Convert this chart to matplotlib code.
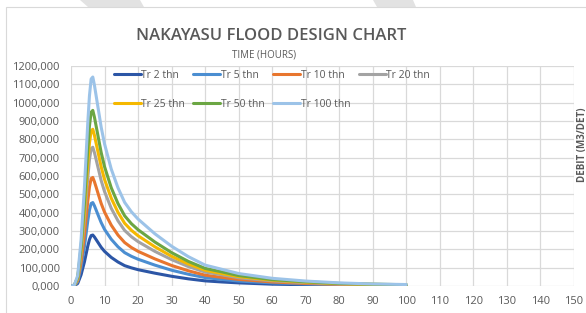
import numpy as np
import matplotlib
matplotlib.use("Agg")
import matplotlib.pyplot as plt
from matplotlib.patches import Polygon, Rectangle

# Hydrograph values (m3/det), time in hours.
hours = [0, 1, 2, 3, 4, 5, 5.5, 6, 6.5, 7, 7.5, 8, 9, 10, 12, 14, 16, 18, 20,
         25, 30, 35, 40, 45, 50, 60, 70, 80, 90, 100]
tr2 = [0, 1.4, 14, 61, 131, 217, 253, 275, 278, 267, 253, 239, 211, 189, 156, 131, 111, 99, 89,
       70, 53, 39, 28, 22, 17, 10, 7, 4, 3, 2]
tr5 = [0, 2.3, 23, 100, 214, 355, 414, 450, 455, 437, 414, 391, 346, 309, 255, 214, 182, 162, 146,
       114, 86, 64, 46, 36, 27, 17, 11, 7, 5, 3]
tr10 = [0, 3, 30, 130, 278, 462, 539, 586, 592, 568, 539, 509, 450, 403, 332, 278, 237, 210, 189,
        148, 112, 83, 59, 47, 36, 22, 14, 9, 6, 4]
tr20 = [0, 3.8, 38, 167, 356, 590, 689, 749, 757, 727, 689, 651, 575, 515, 424, 356, 303, 269, 242,
        189, 144, 106, 76, 61, 45, 28, 18, 11, 8, 5]
tr25 = [0, 4.3, 43, 188, 402, 667, 778, 846, 855, 821, 778, 735, 650, 581, 479, 402, 342, 304, 274,
        214, 162, 120, 86, 68, 51, 32, 21, 13, 9, 6]
tr50 = [0, 4.8, 48, 211, 450, 747, 872, 948, 958, 920, 872, 824, 728, 651, 536, 450, 383, 340, 307,
        240, 182, 134, 96, 77, 57, 35, 23, 14, 10, 7]
tr100 = [0, 5.7, 57, 251, 536, 889, 1037, 1129, 1140, 1094, 1037, 980, 866, 775, 638, 536, 456, 405, 365,
         285, 217, 160, 114, 91, 68, 42, 27, 17, 11, 8]

series = [tr2, tr5, tr10, tr20, tr25, tr50, tr100]
labels = ["Tr 2 thn", "Tr 5 thn", "Tr 10 thn", "Tr 20 thn",
          "Tr 25 thn", "Tr 50 thn", "Tr 100 thn"]
colors = ["#2C56A6", "#4B8ED1", "#E8762E", "#A3A3A3", "#F5B800", "#6BA643", "#9CC3E8"]

xticks = list(range(0, 151, 10))
yticks = list(range(0, 1201, 100))

txt = "#595959"
plt.rcParams["font.family"] = ["Open Sans", "DejaVu Sans"]

fig = plt.figure(figsize=(5.86, 3.13), dpi=100)
W, H = 586, 313

# faint page decorations: grey stripes at the top and the chart border
for pts in ([(80, 0), (140, 0), (144, 7), (88, 7)],
            [(373, 0), (413, 0), (416, 7), (377, 7)]):
    fig.patches.append(Polygon([(x / W, 1 - y / H) for x, y in pts], closed=True,
                               transform=fig.transFigure, color="#e2e2e2", lw=0))
fig.patches.append(Rectangle((6 / W, -0.05), 1.1, 1 - 7 / H + 0.05,
                             transform=fig.transFigure, fill=False,
                             edgecolor="#d9d9d9", lw=0.8))

ax = fig.add_axes([71 / W, 1 - 286 / H, (574 - 71) / W, (286 - 66) / H])

for vals, lab, c in zip(series, labels, colors):
    ax.plot(hours, vals, color=c, lw=2.2, label=lab, solid_capstyle="round",
            solid_joinstyle="round")

ax.set_xlim(0, 150)
ax.set_ylim(0, 1200)
ax.set_xticks(xticks)
ax.set_yticks(yticks)
ax.set_yticklabels([f"{v},000" for v in yticks])
ax.grid(True, color="#d9d9d9", lw=0.9)
ax.set_axisbelow(True)
for s in ax.spines.values():
    s.set_visible(False)
ax.tick_params(length=0, labelsize=8, colors=txt, pad=8)
ax.tick_params(axis="x", pad=7)

h, l = ax.get_legend_handles_labels()
order = [0, 4, 1, 5, 2, 6, 3]
ax.legend([h[i] for i in order], [l[i] for i in order], ncol=4, frameon=False,
          loc="upper left", bbox_to_anchor=(0.066, 1.025), fontsize=7.5,
          labelcolor=txt, handlelength=2.6, handletextpad=0.05,
          columnspacing=0.8, labelspacing=1.7)

fig.text(271 / W, 1 - 36 / H, "NAKAYASU FLOOD DESIGN CHART", ha="center", va="center",
         fontsize=12, fontweight="semibold", color=txt)
fig.text(264 / W, 1 - 55 / H, "TIME (HOURS)", ha="center", va="center",
         fontsize=7, color=txt)
fig.text(582 / W, 1 - 145 / H, "DEBIT (M3/DET)", ha="center", va="center",
         rotation=90, fontsize=7, fontweight="bold", color=txt)

fig.savefig("out.png", dpi=100)
